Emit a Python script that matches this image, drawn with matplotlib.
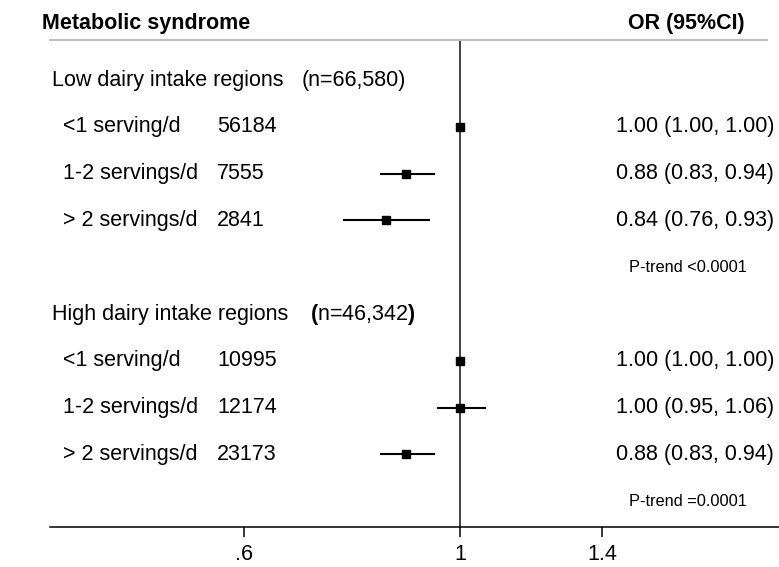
import matplotlib
matplotlib.use("Agg")
import matplotlib.pyplot as plt
from matplotlib.transforms import blended_transform_factory

plt.rcParams['font.family'] = ['Liberation Sans', 'DejaVu Sans']
plt.rcParams['mathtext.fontset'] = 'custom'
plt.rcParams['mathtext.rm'] = 'Liberation Sans'
plt.rcParams['mathtext.bf'] = 'Liberation Sans:bold'

# data
groups = ['Low dairy intake regions', 'High dairy intake regions']
group_n = ['66,580', '46,342']
bold_parens = [False, True]
levels = ['<1 serving/d', '1-2 servings/d', '> 2 servings/d']
counts = [[56184, 7555, 2841], [10995, 12174, 23173]]
odds = [[1.00, 0.88, 0.84], [1.00, 1.00, 0.88]]
lower = [[1.00, 0.83, 0.76], [1.00, 0.95, 0.83]]
upper = [[1.00, 0.94, 0.93], [1.00, 1.06, 0.94]]
p_trend = ['P-trend <0.0001', 'P-trend =0.0001']
xticks = [0.6, 1, 1.4]
xticklabels = ['.6', '1', '1.4']

W, H = 779, 567
fig = plt.figure(figsize=(W / 100, H / 100), dpi=100)
ax = fig.add_axes([50 / W, (H - 527) / H, 1 - 50 / W, (527 - 40.5) / H])
ax.set_xscale('log')
ax.set_xlim(0.3794, 2.126)
ax.set_ylim(9.551, -0.844)

for s in ['top', 'right', 'left']:
    ax.spines[s].set_visible(False)
ax.spines['bottom'].set_linewidth(1.1)
ax.set_yticks([])
ax.set_xticks(xticks)
ax.set_xticklabels(xticklabels)
ax.minorticks_off()
ax.tick_params(axis='x', direction='out', length=7, width=1.1, pad=5, labelsize=15.5)

# header line and null line
ax.axhline(-0.844, xmin=0, xmax=717 / 729, color='#b0b0b0', lw=1.2, clip_on=False)
ax.axvline(1, color='#333333', lw=1.3, zorder=1)

fs = 15.5
tr = blended_transform_factory(fig.transFigure, ax.transData)

def px(x):
    return x / W

fig.text(px(42), 1 - 23 / H, 'Metabolic syndrome', fontsize=fs, fontweight='bold', va='center')
fig.text(px(745), 1 - 23 / H, 'OR (95%CI)', fontsize=fs, fontweight='bold', va='center', ha='right')

n_x = [302, 310]
row = 0
for g in range(len(groups)):
    ax.text(px(52), row, groups[g], transform=tr, fontsize=fs, va='center')
    if bold_parens[g]:
        ntxt = r'$\mathbf{(}$n=' + group_n[g] + r'$\mathbf{)}$'
    else:
        ntxt = '(n=' + group_n[g] + ')'
    ax.text(px(n_x[g]), row, ntxt, transform=tr, fontsize=fs, va='center')
    row += 1
    for k in range(len(levels)):
        ax.text(px(63), row, levels[k], transform=tr, fontsize=fs, va='center')
        ax.text(px(217), row, str(counts[g][k]), transform=tr, fontsize=fs, va='center')
        ax.plot([lower[g][k], upper[g][k]], [row, row], color='black', lw=1.5, zorder=2)
        ax.plot(odds[g][k], row, marker='s', color='black', markersize=6, zorder=3)
        label = '%.2f (%.2f, %.2f)' % (odds[g][k], lower[g][k], upper[g][k])
        ax.text(px(774), row, label, transform=tr, fontsize=fs, va='center', ha='right')
        row += 1
    ax.text(px(629), row, p_trend[g], transform=tr, fontsize=11.8, va='center')
    row += 1

fig.savefig('out.png', dpi=100)
